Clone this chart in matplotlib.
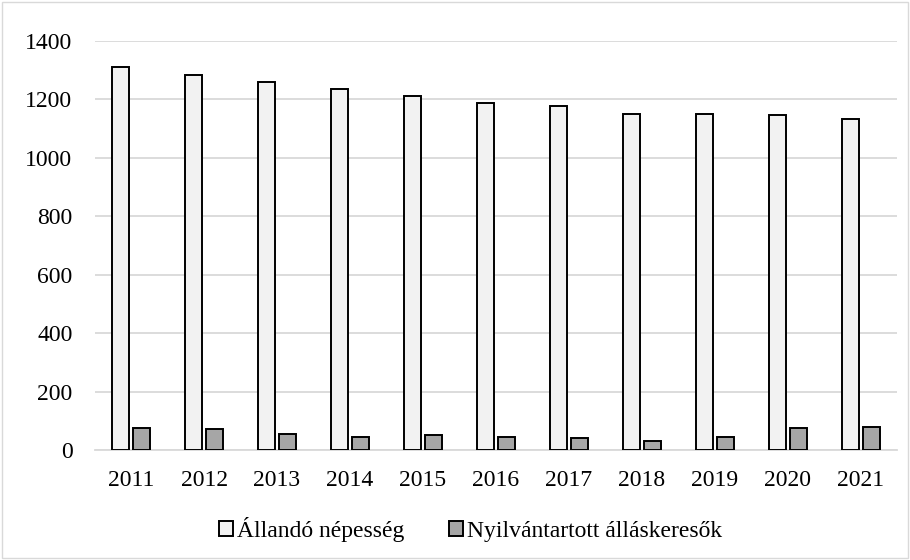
import numpy as np
import matplotlib.pyplot as plt
from matplotlib.patches import Rectangle

plt.rcParams['font.family'] = ['Liberation Serif', 'DejaVu Serif']

years = ['2011', '2012', '2013', '2014', '2015', '2016',
         '2017', '2018', '2019', '2020', '2021']
nepesseg = [1310, 1282, 1261, 1234, 1212, 1187, 1178, 1151, 1150, 1148, 1132]
allaskeresok = [75, 71, 56, 45, 51, 46, 42, 33, 45, 77, 80]

x = np.arange(len(years))
w = 0.23
gap = 0.055

fig = plt.figure(figsize=(9.1, 5.6), dpi=100)
ax = fig.add_axes([0.104, 0.196, 0.882, 0.731])

ax.bar(x - (w + gap) / 2, nepesseg, w, color='#f2f2f2', edgecolor='black',
       lw=1.4, label='Állandó népesség', zorder=3)
ax.bar(x + (w + gap) / 2, allaskeresok, w, color='#a6a6a6', edgecolor='black',
       lw=1.4, label='Nyilvántartott álláskeresők', zorder=3)

ax.set_xlim(-0.5, len(years) - 0.5)
ax.set_ylim(0, 1400)
ax.set_yticks(np.arange(0, 1401, 200))
ax.set_xticks(x)
ax.set_xticklabels(years)
ax.yaxis.grid(True, color='#d9d9d9', lw=1.3, zorder=0)
for s in ['top', 'right', 'left']:
    ax.spines[s].set_visible(False)
ax.spines['bottom'].set_color('#d9d9d9')
ax.spines['bottom'].set_linewidth(1.3)
ax.tick_params(length=0, labelsize=17)
ax.tick_params(axis='x', pad=14)
ax.tick_params(axis='y', pad=16)

ax.legend(loc='center', bbox_to_anchor=(0.468, -0.194), ncol=2,
          frameon=False, fontsize=17, handlelength=0.6, handleheight=0.6,
          handletextpad=0.15, columnspacing=1.9)

fig.patches.append(Rectangle((0.002, 0.003), 0.996, 0.994, transform=fig.transFigure,
                             fill=False, edgecolor='#d9d9d9', lw=1))

plt.savefig('out.png')
